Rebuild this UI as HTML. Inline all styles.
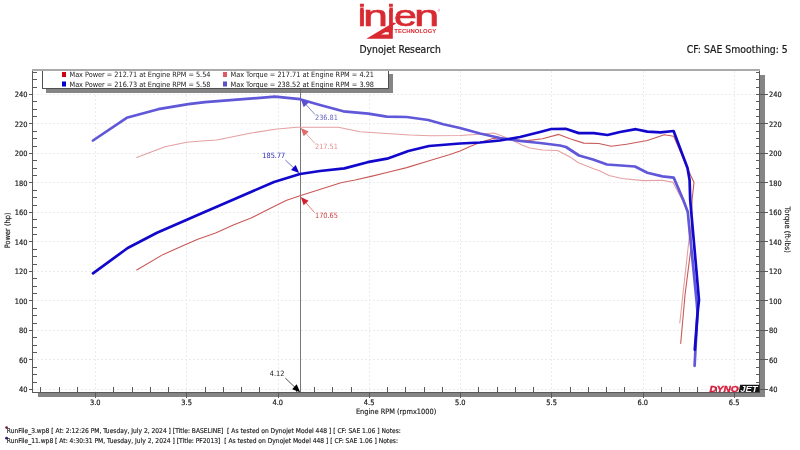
<!DOCTYPE html>
<html><head><meta charset="utf-8"><title>Dynojet Research</title><style>html,body{margin:0;padding:0;background:#fff;width:800px;height:450px;overflow:hidden}svg{display:block;will-change:transform}</style></head><body>
<svg width="800" height="450" viewBox="0 0 800 450" font-family="'DejaVu Sans Condensed','DejaVu Sans','Liberation Sans',sans-serif">
<rect width="800" height="450" fill="#ffffff"/>
<rect x="38" y="75" width="727" height="322" fill="#858585"/>
<rect x="32" y="69" width="728" height="323" fill="#ffffff"/>
<g stroke="#ebebeb" stroke-width="1" stroke-dasharray="2,2"><line x1="33" y1="389.5" x2="759" y2="389.5"/><line x1="33" y1="359.5" x2="759" y2="359.5"/><line x1="33" y1="330.5" x2="759" y2="330.5"/><line x1="33" y1="300.5" x2="759" y2="300.5"/><line x1="33" y1="271.5" x2="759" y2="271.5"/><line x1="33" y1="241.5" x2="759" y2="241.5"/><line x1="33" y1="212.5" x2="759" y2="212.5"/><line x1="33" y1="182.5" x2="759" y2="182.5"/><line x1="33" y1="153.5" x2="759" y2="153.5"/><line x1="33" y1="123.5" x2="759" y2="123.5"/><line x1="33" y1="94.5" x2="759" y2="94.5"/><line x1="95.5" y1="71" x2="95.5" y2="392"/><line x1="186.5" y1="71" x2="186.5" y2="392"/><line x1="278.5" y1="71" x2="278.5" y2="392"/><line x1="369.5" y1="71" x2="369.5" y2="392"/><line x1="460.5" y1="71" x2="460.5" y2="392"/><line x1="551.5" y1="71" x2="551.5" y2="392"/><line x1="643.5" y1="71" x2="643.5" y2="392"/><line x1="734.5" y1="71" x2="734.5" y2="392"/></g>
<line x1="300.5" y1="89" x2="300.5" y2="392" stroke="#777777" stroke-width="1"/>
<polyline points="136.7,157.5 165.0,146.7 186.7,142.2 205.0,140.8 216.7,140.0 250.0,133.3 275.0,129.2 296.7,127.2 320.0,127.2 338.3,127.2 360.0,131.7 390.0,133.7 410.0,135.0 430.0,135.7 460.0,135.5 475.0,134.5 494.0,133.0 502.0,136.0 510.0,139.0 522.0,145.0 530.0,148.0 542.5,150.0 557.5,150.5 570.0,156.9 578.0,162.5 593.0,168.5 600.0,171.0 609.0,175.5 622.0,178.5 643.5,180.6 662.4,180.2 673.0,182.4 683.3,202.0 687.8,213.0 689.5,235.0 683.4,290.0 679.8,323.0" fill="none" stroke="#e4a0a2" stroke-width="1.1" stroke-linejoin="round" stroke-linecap="round" />
<polyline points="136.7,270.0 163.3,254.4 180.0,247.1 197.8,239.3 215.6,233.1 233.3,225.1 251.1,218.0 268.9,209.1 286.7,200.2 300.0,195.8 321.3,188.9 340.9,182.7 355.1,180.0 371.1,176.4 388.9,172.0 406.7,167.6 430.0,160.5 450.0,154.5 460.0,151.0 470.0,146.5 480.0,142.5 493.0,138.5 510.0,139.5 527.5,140.6 542.5,138.8 558.8,134.4 570.0,138.8 583.8,143.1 598.8,143.5 611.2,146.2 626.5,144.3 647.3,140.5 664.3,134.8 673.7,136.2 687.8,168.9 694.0,182.6 692.1,199.1 691.2,230.0 690.7,250.0 685.0,295.0 680.7,343.5" fill="none" stroke="#c85a58" stroke-width="1.1" stroke-linejoin="round" stroke-linecap="round" />
<polyline points="93.0,140.5 126.7,117.8 158.3,109.2 188.3,104.2 205.0,102.2 275.0,96.7 300.0,99.2 320.0,105.0 343.3,111.3 368.3,113.7 386.7,116.7 406.7,117.0 428.3,120.0 443.3,124.2 460.0,128.0 480.0,133.5 500.0,138.0 520.0,141.0 540.0,143.0 560.0,145.5 566.0,147.0 579.0,155.5 593.0,159.5 607.0,164.5 635.0,166.5 647.3,172.7 662.4,176.4 673.7,177.6 683.3,200.0 687.8,212.0 689.0,225.0 696.5,300.0 697.5,312.0 694.6,365.8" fill="none" stroke="#6058d8" stroke-width="2.7" stroke-linejoin="round" stroke-linecap="round" />
<polyline points="93.0,273.3 127.7,248.0 157.0,232.8 186.3,220.0 200.0,214.0 237.0,198.0 274.0,182.0 300.0,174.0 320.0,171.0 344.4,168.4 367.6,162.2 387.1,158.7 408.4,151.0 429.0,146.0 460.0,143.5 480.0,142.5 500.0,140.5 520.0,137.0 540.0,132.0 551.3,129.0 565.6,128.8 578.8,133.1 593.8,133.1 607.5,135.0 620.0,132.0 635.9,129.2 647.3,131.6 660.5,132.4 673.6,131.0 687.5,168.0 689.6,180.0 690.2,200.0 699.0,300.0 698.3,306.0 697.6,313.0 694.8,349.7" fill="none" stroke="#1208cc" stroke-width="2.7" stroke-linejoin="round" stroke-linecap="round" />
<rect x="32" y="69" width="728" height="2" fill="#aaaaaa"/>
<line x1="32.5" y1="69" x2="32.5" y2="392.5" stroke="#5a5a5a"/>
<line x1="32" y1="392.5" x2="760" y2="392.5" stroke="#5a5a5a"/>
<line x1="759.5" y1="69" x2="759.5" y2="392.5" stroke="#5a5a5a"/>
<g stroke="#5a5a5a" stroke-width="1"><line x1="29" y1="389.5" x2="32" y2="389.5"/><line x1="756" y1="389.5" x2="768" y2="389.5"/><line x1="33" y1="382.5" x2="37" y2="382.5"/><line x1="756" y1="382.5" x2="759" y2="382.5"/><line x1="33" y1="374.5" x2="37" y2="374.5"/><line x1="756" y1="374.5" x2="759" y2="374.5"/><line x1="33" y1="367.5" x2="37" y2="367.5"/><line x1="756" y1="367.5" x2="759" y2="367.5"/><line x1="29" y1="359.5" x2="32" y2="359.5"/><line x1="756" y1="359.5" x2="768" y2="359.5"/><line x1="33" y1="352.5" x2="37" y2="352.5"/><line x1="756" y1="352.5" x2="759" y2="352.5"/><line x1="33" y1="345.5" x2="37" y2="345.5"/><line x1="756" y1="345.5" x2="759" y2="345.5"/><line x1="33" y1="337.5" x2="37" y2="337.5"/><line x1="756" y1="337.5" x2="759" y2="337.5"/><line x1="29" y1="330.5" x2="32" y2="330.5"/><line x1="756" y1="330.5" x2="768" y2="330.5"/><line x1="33" y1="323.5" x2="37" y2="323.5"/><line x1="756" y1="323.5" x2="759" y2="323.5"/><line x1="33" y1="315.5" x2="37" y2="315.5"/><line x1="756" y1="315.5" x2="759" y2="315.5"/><line x1="33" y1="308.5" x2="37" y2="308.5"/><line x1="756" y1="308.5" x2="759" y2="308.5"/><line x1="29" y1="300.5" x2="32" y2="300.5"/><line x1="756" y1="300.5" x2="768" y2="300.5"/><line x1="33" y1="293.5" x2="37" y2="293.5"/><line x1="756" y1="293.5" x2="759" y2="293.5"/><line x1="33" y1="286.5" x2="37" y2="286.5"/><line x1="756" y1="286.5" x2="759" y2="286.5"/><line x1="33" y1="278.5" x2="37" y2="278.5"/><line x1="756" y1="278.5" x2="759" y2="278.5"/><line x1="29" y1="271.5" x2="32" y2="271.5"/><line x1="756" y1="271.5" x2="768" y2="271.5"/><line x1="33" y1="264.5" x2="37" y2="264.5"/><line x1="756" y1="264.5" x2="759" y2="264.5"/><line x1="33" y1="256.5" x2="37" y2="256.5"/><line x1="756" y1="256.5" x2="759" y2="256.5"/><line x1="33" y1="249.5" x2="37" y2="249.5"/><line x1="756" y1="249.5" x2="759" y2="249.5"/><line x1="29" y1="241.5" x2="32" y2="241.5"/><line x1="756" y1="241.5" x2="768" y2="241.5"/><line x1="33" y1="234.5" x2="37" y2="234.5"/><line x1="756" y1="234.5" x2="759" y2="234.5"/><line x1="33" y1="227.5" x2="37" y2="227.5"/><line x1="756" y1="227.5" x2="759" y2="227.5"/><line x1="33" y1="219.5" x2="37" y2="219.5"/><line x1="756" y1="219.5" x2="759" y2="219.5"/><line x1="29" y1="212.5" x2="32" y2="212.5"/><line x1="756" y1="212.5" x2="768" y2="212.5"/><line x1="33" y1="205.5" x2="37" y2="205.5"/><line x1="756" y1="205.5" x2="759" y2="205.5"/><line x1="33" y1="197.5" x2="37" y2="197.5"/><line x1="756" y1="197.5" x2="759" y2="197.5"/><line x1="33" y1="190.5" x2="37" y2="190.5"/><line x1="756" y1="190.5" x2="759" y2="190.5"/><line x1="29" y1="182.5" x2="32" y2="182.5"/><line x1="756" y1="182.5" x2="768" y2="182.5"/><line x1="33" y1="175.5" x2="37" y2="175.5"/><line x1="756" y1="175.5" x2="759" y2="175.5"/><line x1="33" y1="168.5" x2="37" y2="168.5"/><line x1="756" y1="168.5" x2="759" y2="168.5"/><line x1="33" y1="160.5" x2="37" y2="160.5"/><line x1="756" y1="160.5" x2="759" y2="160.5"/><line x1="29" y1="153.5" x2="32" y2="153.5"/><line x1="756" y1="153.5" x2="768" y2="153.5"/><line x1="33" y1="146.5" x2="37" y2="146.5"/><line x1="756" y1="146.5" x2="759" y2="146.5"/><line x1="33" y1="138.5" x2="37" y2="138.5"/><line x1="756" y1="138.5" x2="759" y2="138.5"/><line x1="33" y1="131.5" x2="37" y2="131.5"/><line x1="756" y1="131.5" x2="759" y2="131.5"/><line x1="29" y1="123.5" x2="32" y2="123.5"/><line x1="756" y1="123.5" x2="768" y2="123.5"/><line x1="33" y1="116.5" x2="37" y2="116.5"/><line x1="756" y1="116.5" x2="759" y2="116.5"/><line x1="33" y1="109.5" x2="37" y2="109.5"/><line x1="756" y1="109.5" x2="759" y2="109.5"/><line x1="33" y1="101.5" x2="37" y2="101.5"/><line x1="756" y1="101.5" x2="759" y2="101.5"/><line x1="29" y1="94.5" x2="32" y2="94.5"/><line x1="756" y1="94.5" x2="768" y2="94.5"/><line x1="33" y1="87.5" x2="37" y2="87.5"/><line x1="756" y1="87.5" x2="759" y2="87.5"/><line x1="33" y1="79.5" x2="37" y2="79.5"/><line x1="756" y1="79.5" x2="759" y2="79.5"/><line x1="33" y1="72.5" x2="37" y2="72.5"/><line x1="756" y1="72.5" x2="759" y2="72.5"/><line x1="40.5" y1="387" x2="40.5" y2="392"/><line x1="59.5" y1="387" x2="59.5" y2="392"/><line x1="77.5" y1="387" x2="77.5" y2="392"/><line x1="95.5" y1="392" x2="95.5" y2="398"/><line x1="113.5" y1="387" x2="113.5" y2="392"/><line x1="132.5" y1="387" x2="132.5" y2="392"/><line x1="150.5" y1="387" x2="150.5" y2="392"/><line x1="168.5" y1="387" x2="168.5" y2="392"/><line x1="186.5" y1="392" x2="186.5" y2="398"/><line x1="205.5" y1="387" x2="205.5" y2="392"/><line x1="223.5" y1="387" x2="223.5" y2="392"/><line x1="241.5" y1="387" x2="241.5" y2="392"/><line x1="259.5" y1="387" x2="259.5" y2="392"/><line x1="278.5" y1="392" x2="278.5" y2="398"/><line x1="296.5" y1="387" x2="296.5" y2="392"/><line x1="314.5" y1="387" x2="314.5" y2="392"/><line x1="332.5" y1="387" x2="332.5" y2="392"/><line x1="351.5" y1="387" x2="351.5" y2="392"/><line x1="369.5" y1="392" x2="369.5" y2="398"/><line x1="387.5" y1="387" x2="387.5" y2="392"/><line x1="405.5" y1="387" x2="405.5" y2="392"/><line x1="424.5" y1="387" x2="424.5" y2="392"/><line x1="442.5" y1="387" x2="442.5" y2="392"/><line x1="460.5" y1="392" x2="460.5" y2="398"/><line x1="478.5" y1="387" x2="478.5" y2="392"/><line x1="497.5" y1="387" x2="497.5" y2="392"/><line x1="515.5" y1="387" x2="515.5" y2="392"/><line x1="533.5" y1="387" x2="533.5" y2="392"/><line x1="551.5" y1="392" x2="551.5" y2="398"/><line x1="570.5" y1="387" x2="570.5" y2="392"/><line x1="588.5" y1="387" x2="588.5" y2="392"/><line x1="606.5" y1="387" x2="606.5" y2="392"/><line x1="624.5" y1="387" x2="624.5" y2="392"/><line x1="643.5" y1="392" x2="643.5" y2="398"/><line x1="661.5" y1="387" x2="661.5" y2="392"/><line x1="679.5" y1="387" x2="679.5" y2="392"/><line x1="697.5" y1="387" x2="697.5" y2="392"/><line x1="716.5" y1="387" x2="716.5" y2="392"/><line x1="734.5" y1="392" x2="734.5" y2="398"/><line x1="752.5" y1="387" x2="752.5" y2="392"/></g>
<g font-size="7.4" fill="#222" stroke="#222" stroke-width="0.2"><text x="27.5" y="392.1" text-anchor="end">40</text><text x="769" y="392.1">40</text><text x="27.5" y="362.6" text-anchor="end">60</text><text x="769" y="362.6">60</text><text x="27.5" y="333.1" text-anchor="end">80</text><text x="769" y="333.1">80</text><text x="27.5" y="303.6" text-anchor="end">100</text><text x="769" y="303.6">100</text><text x="27.5" y="274.1" text-anchor="end">120</text><text x="769" y="274.1">120</text><text x="27.5" y="244.6" text-anchor="end">140</text><text x="769" y="244.6">140</text><text x="27.5" y="215.1" text-anchor="end">160</text><text x="769" y="215.1">160</text><text x="27.5" y="185.6" text-anchor="end">180</text><text x="769" y="185.6">180</text><text x="27.5" y="156.1" text-anchor="end">200</text><text x="769" y="156.1">200</text><text x="27.5" y="126.6" text-anchor="end">220</text><text x="769" y="126.6">220</text><text x="27.5" y="97.1" text-anchor="end">240</text><text x="769" y="97.1">240</text><text x="95.3" y="404.5" text-anchor="middle">3.0</text><text x="186.6" y="404.5" text-anchor="middle">3.5</text><text x="277.8" y="404.5" text-anchor="middle">4.0</text><text x="369.1" y="404.5" text-anchor="middle">4.5</text><text x="460.3" y="404.5" text-anchor="middle">5.0</text><text x="551.6" y="404.5" text-anchor="middle">5.5</text><text x="642.8" y="404.5" text-anchor="middle">6.0</text><text x="734.1" y="404.5" text-anchor="middle">6.5</text></g>
<text x="396.1" y="413.9" font-size="7.35" fill="#222" stroke="#222" stroke-width="0.15" text-anchor="middle">Engine RPM (rpmx1000)</text>
<text transform="translate(10.4,230.4) rotate(-90)" font-size="7.4" fill="#222" stroke="#222" stroke-width="0.15" text-anchor="middle">Power (hp)</text>
<text transform="translate(784.8,229.7) rotate(90)" font-size="7.45" fill="#222" stroke="#222" stroke-width="0.15" text-anchor="middle">Torque (ft-lbs)</text>
<rect x="46" y="74" width="347" height="19" fill="#858585"/>
<rect x="42.5" y="69.5" width="346" height="19" fill="#ffffff" stroke="#505050"/>
<rect x="32" y="69" width="728" height="2" fill="#aaaaaa"/>
<line x1="300.5" y1="89" x2="300.5" y2="93" stroke="#6a6a6a" stroke-width="1"/>
<rect x="62" y="72" width="4" height="5" fill="#d00010"/>
<rect x="62" y="81.5" width="4" height="5" fill="#0000d0"/>
<rect x="223" y="72" width="4" height="5" fill="#dc5a64"/>
<rect x="223" y="81.5" width="4" height="5" fill="#5a50c8"/>
<g font-size="7.3" fill="#202020"><text x="69.5" y="77.3" textLength="141" lengthAdjust="spacingAndGlyphs">Max Power = 212.71 at Engine RPM = 5.54</text><text x="69.5" y="86.6" textLength="141" lengthAdjust="spacingAndGlyphs">Max Power = 216.73 at Engine RPM = 5.58</text><text x="230.5" y="77.3" textLength="143.5" lengthAdjust="spacingAndGlyphs">Max Torque = 217.71 at Engine RPM = 4.21</text><text x="230.5" y="86.6" textLength="143.5" lengthAdjust="spacingAndGlyphs">Max Torque = 238.52 at Engine RPM = 3.98</text></g>
<line x1="315.0" y1="114.5" x2="304.9" y2="103.4" stroke="#8888b8" stroke-width="1"/><polygon points="300.8,99.0 308.7,102.6 303.7,107.2" fill="#5a50d0"/>
<line x1="315.0" y1="143.5" x2="304.9" y2="132.4" stroke="#e0a8a8" stroke-width="1"/><polygon points="300.8,128.0 308.7,131.6 303.7,136.2" fill="#e06a6a"/>
<line x1="285.4" y1="160.1" x2="294.8" y2="168.9" stroke="#7070c8" stroke-width="1"/><polygon points="299.2,173.0 291.0,170.0 295.7,165.1" fill="#1000c8"/>
<line x1="314.5" y1="212.5" x2="304.8" y2="201.5" stroke="#e08080" stroke-width="1"/><polygon points="300.8,197.0 308.6,200.7 303.6,205.2" fill="#d02030"/>
<line x1="285.4" y1="378.2" x2="295.8" y2="388.1" stroke="#505050" stroke-width="1"/><polygon points="300.2,392.2 292.1,389.2 296.7,384.2" fill="#000000"/>
<g font-size="7.3"><text x="315" y="119.8" fill="#6464c0">236.81</text><text x="315" y="148.5" fill="#e48c8c">217.51</text><text x="262.3" y="157.8" fill="#2828b4">185.77</text><text x="315" y="218.3" fill="#d03c3c">170.65</text><text x="269.8" y="375.8" fill="#202020">4.12</text></g>
<polygon points="740.2,384.8 759.5,384.8 759.5,392.2 738.6,392.2" fill="#141414"/>
<text x="709.4" y="392.1" font-family="'Liberation Sans',sans-serif" font-weight="bold" font-style="italic" font-size="9.7" fill="#d81e3c" stroke="#d81e3c" stroke-width="0.45" textLength="29.2" lengthAdjust="spacingAndGlyphs">DYNO</text>
<text x="740.2" y="391.6" font-family="'Liberation Sans',sans-serif" font-weight="bold" font-style="italic" font-size="9" fill="#f4f4f4" textLength="17.5" lengthAdjust="spacingAndGlyphs">JET</text>
<text x="359.5" y="52.8" font-size="10.2" fill="#1a1a1a" stroke="#1a1a1a" stroke-width="0.2" textLength="81.3" lengthAdjust="spacingAndGlyphs">Dynojet Research</text>
<text x="686.8" y="53.1" font-size="10.2" fill="#1a1a1a" stroke="#1a1a1a" stroke-width="0.2" textLength="101" lengthAdjust="spacingAndGlyphs">CF: SAE Smoothing: 5</text>
<g font-family="'Liberation Sans',sans-serif" font-size="29.7" fill="#d92a32" stroke="#d92a32" stroke-width="0.7"><text x="357.99" y="26.4" textLength="7.84" lengthAdjust="spacingAndGlyphs">i</text><text x="363.21" y="26.4" textLength="24.61" lengthAdjust="spacingAndGlyphs">n</text><text x="387.34" y="26.4" textLength="7.33" lengthAdjust="spacingAndGlyphs">j</text><text x="394.00" y="26.4" textLength="22.87" lengthAdjust="spacingAndGlyphs">e</text><text x="414.38" y="26.4" textLength="24.87" lengthAdjust="spacingAndGlyphs">n</text></g>
<rect x="360.2" y="7.5" width="3.4" height="4" fill="#d92a32"/><rect x="389.4" y="7.5" width="3.4" height="4" fill="#d92a32"/>
<path fill-rule="evenodd" fill="#d92a32" d="M366.3,38.8 L392.8,38.8 L392.8,25.6 L396.2,23.4 L393.6,22.4 Z M381,34.6 L388.8,34.6 L388.8,30.6 Z"/>
<text x="394.3" y="32.8" font-family="'Liberation Sans',sans-serif" font-weight="bold" font-size="4.9" fill="#d92a32" textLength="42" lengthAdjust="spacingAndGlyphs">TECHNOLOGY</text>
<text x="437.8" y="12" font-family="'Liberation Sans',sans-serif" font-size="3" fill="#d92a32">&#174;</text>
<circle cx="6.6" cy="427.6" r="1.4" fill="#702838"/>
<circle cx="6.6" cy="438.2" r="1.4" fill="#202070"/>
<g font-size="6.7" fill="#202020" stroke="#202020" stroke-width="0.15" style="white-space:pre"><text x="6.8" y="432.8" textLength="394" lengthAdjust="spacingAndGlyphs">RunFile_3.wp8 [ At: 2:12:26 PM, Tuesday, July 2, 2024 ] [Title: BASELINE] &#160;[ As tested on Dynojet Model 448 ] [ CF: SAE 1.06 ] Notes:</text><text x="6.8" y="443" textLength="391.2" lengthAdjust="spacingAndGlyphs">RunFile_11.wp8 [ At: 4:30:31 PM, Tuesday, July 2, 2024 ] [Title: PF2013] &#160;[ As tested on Dynojet Model 448 ] [ CF: SAE 1.06 ] Notes:</text></g>
</svg>
</body></html>
